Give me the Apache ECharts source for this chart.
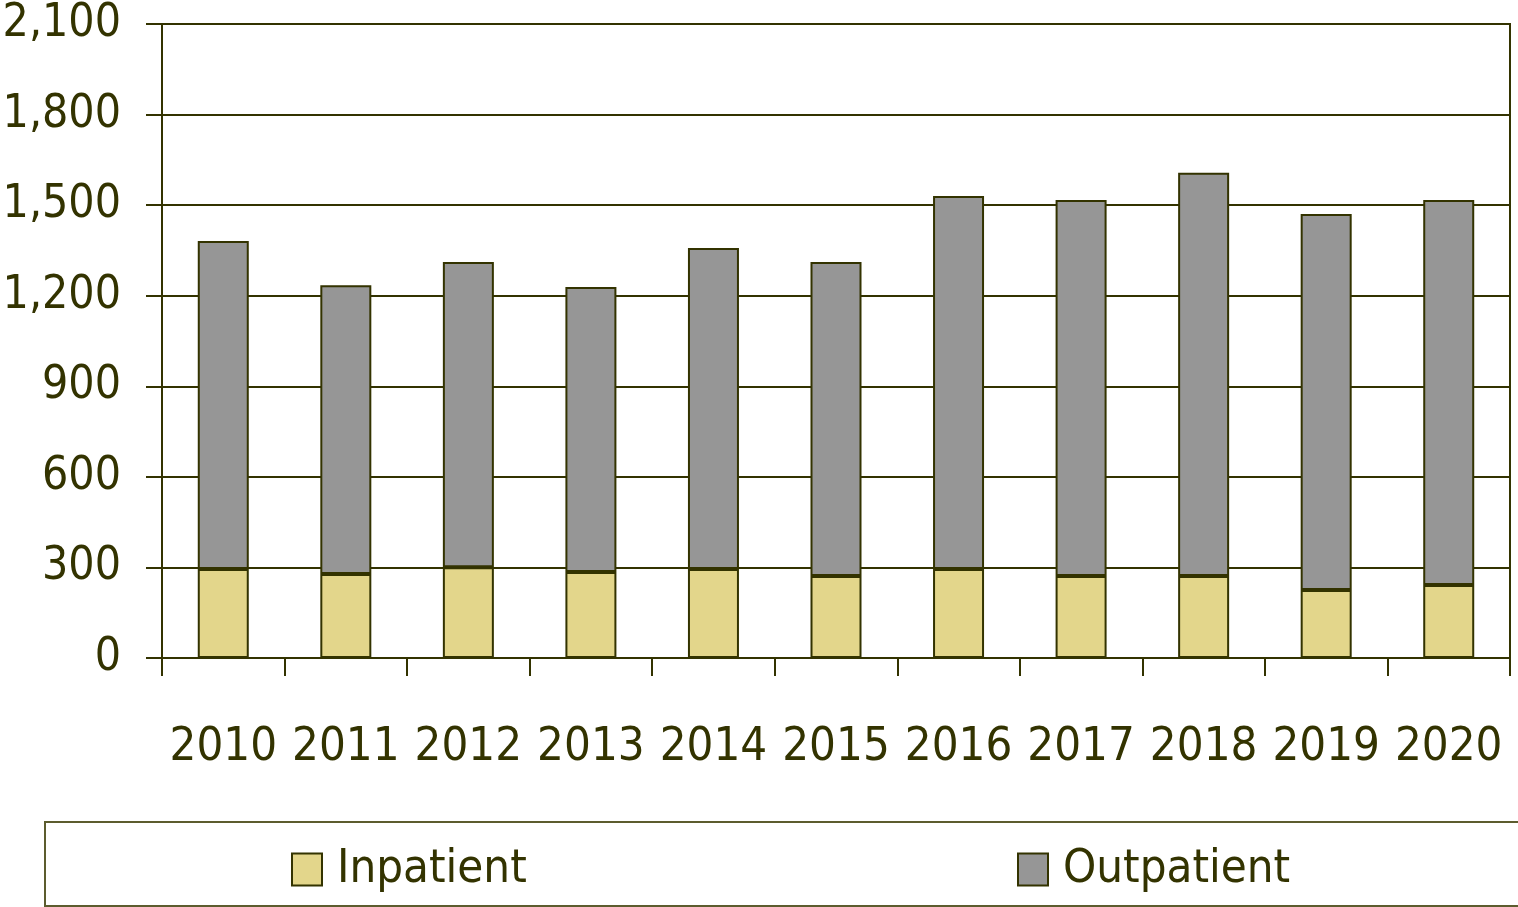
<!DOCTYPE html>
<html>
<head>
<meta charset="utf-8">
<script src="https://cdn.jsdelivr.net/npm/echarts@6/dist/echarts.min.js"></script>
<style>
  html, body { margin: 0; padding: 0; background: #fff; }
  #chart { width: 1518px; height: 907px; }
</style>
</head>
<body>
<div id="chart"></div>
<script>
// 数据
var years = ['2010', '2011', '2012', '2013', '2014', '2015', '2016', '2017', '2018', '2019', '2020']
var inpatient = [295, 278, 301, 285, 295, 272, 295, 272, 272, 225, 242]
var outpatient = [1086, 957, 1011, 944, 1063, 1040, 1235, 1245, 1335, 1246, 1275]

var ink = '#333300'
var font = '"DejaVu Sans Condensed", "Liberation Sans Narrow", sans-serif'

var myChart = echarts.init(document.getElementById('chart'))
var option = {
  animation: false,
  grid: {
    left: 162,
    right: 8,
    top: 24,
    bottom: 249,
    outerBoundsMode: 'none',
    show: true,
    borderColor: ink,
    borderWidth: 2
  },
  graphic: [{
    type: 'rect',
    shape: { x: 45, y: 822, width: 1480, height: 84 },
    style: { fill: 'none', stroke: '#5c5c2e', lineWidth: 2 }
  }],
  legend: [{
    data: ['Inpatient'],
    left: 286,
    top: 841,
    icon: 'rect',
    itemWidth: 30,
    itemHeight: 32,
    textStyle: { color: ink, fontSize: 47, fontFamily: font, padding: [0, 0, 0, 10] }
  }, {
    data: ['Outpatient'],
    left: 1012,
    top: 841,
    icon: 'rect',
    itemWidth: 30,
    itemHeight: 32,
    textStyle: { color: ink, fontSize: 47, fontFamily: font, padding: [0, 0, 0, 10] }
  }],
  xAxis: {
    type: 'category',
    data: years,
    axisLine: { lineStyle: { color: ink, width: 2 } },
    axisTick: { show: true, length: 18, lineStyle: { color: ink, width: 2 } },
    axisLabel: { color: ink, fontSize: 47, fontFamily: font, margin: 66, interval: 0 }
  },
  yAxis: {
    type: 'value',
    min: 0,
    max: 2100,
    interval: 300,
    axisLine: { show: true, lineStyle: { color: ink, width: 2 } },
    axisTick: { show: true, length: 16, lineStyle: { color: ink, width: 2 } },
    splitLine: { lineStyle: { color: ink, width: 2 } },
    axisLabel: {
      color: ink,
      fontSize: 46,
      fontFamily: font,
      margin: 41,
      formatter: function (v) { return v.toLocaleString('en-US') }
    }
  },
  series: [{
    name: 'Inpatient',
    type: 'bar',
    stack: 'total',
    barWidth: 51,
    data: inpatient,
    itemStyle: { color: '#e3d68b', borderColor: ink, borderWidth: 2 }
  }, {
    name: 'Outpatient',
    type: 'bar',
    stack: 'total',
    barWidth: 51,
    data: outpatient,
    itemStyle: { color: '#969696', borderColor: ink, borderWidth: 2 }
  }]
}
myChart.setOption(option)
</script>
</body>
</html>
